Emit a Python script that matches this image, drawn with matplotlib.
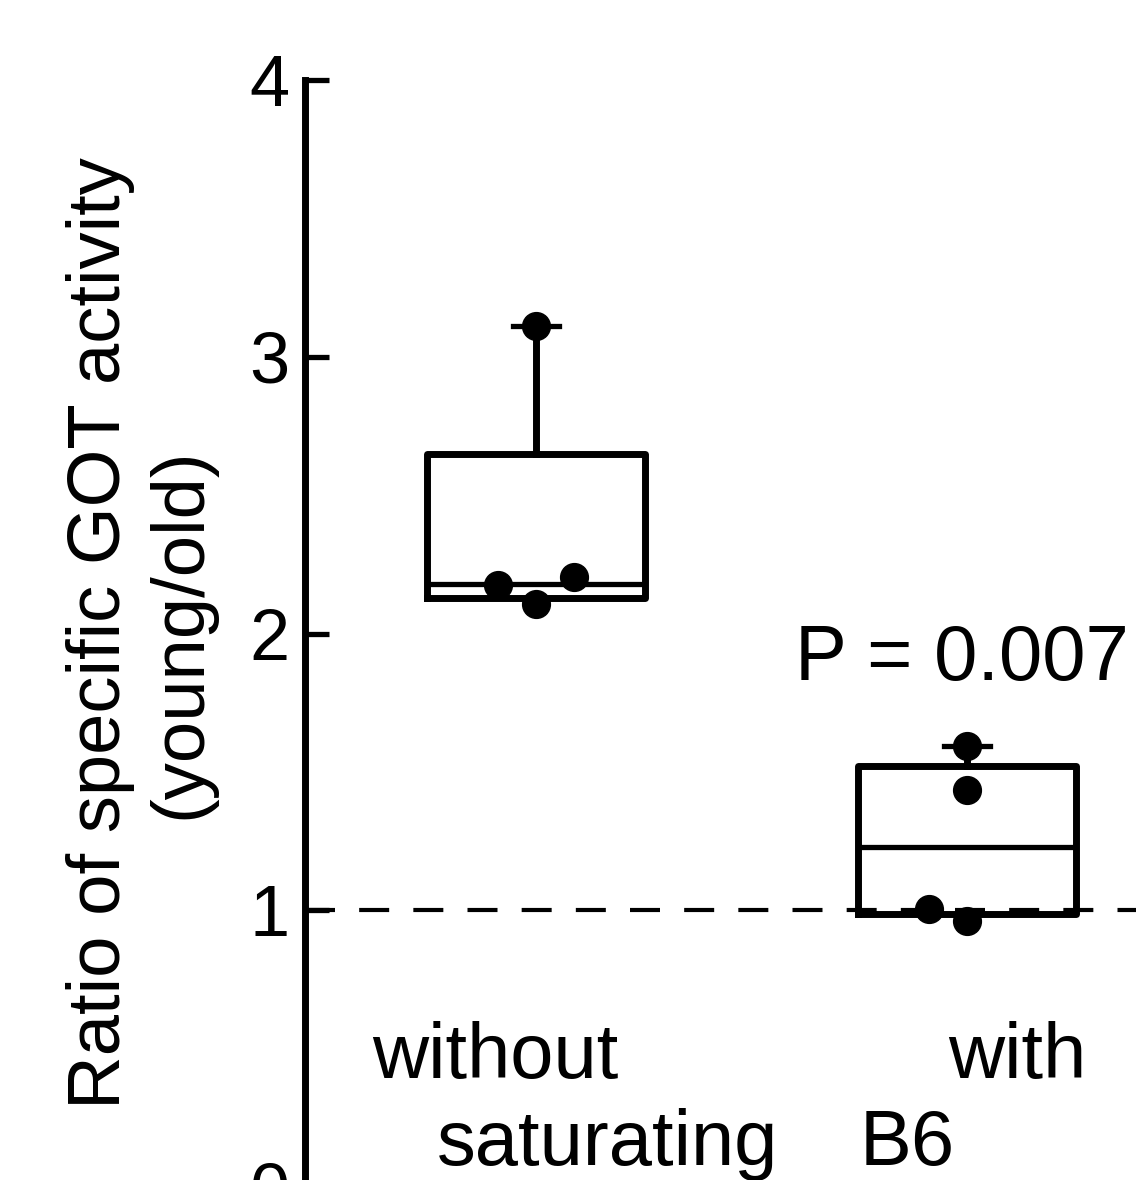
import matplotlib
matplotlib.use('Agg')
import matplotlib.pyplot as plt

plt.rcParams['font.family'] = ['Liberation Sans', 'DejaVu Sans']

# values
groups = ['without', 'with']
positions = [1, 2]
q1 = [2.13, 0.985]
medians = [2.18, 1.23]
q3 = [2.65, 1.52]
whisker_hi = [3.11, 1.595]
points = [[3.11, 2.175, 2.105, 2.205],
          [1.595, 1.435, 1.005, 0.96]]
point_dx = [[0, -0.088, 0, 0.088],
            [0, 0, -0.088, 0]]
reference_ratio = 1.0
p_text = 'P = 0.007'
yticks = [0, 1, 2, 3, 4]

fig = plt.figure(figsize=(11.36, 11.80), dpi=100)
ax = fig.add_axes([305 / 1136, -7 / 1180, 995 / 1136, 1107 / 1180])

stats = []
for i in range(len(groups)):
    stats.append({'med': medians[i], 'q1': q1[i], 'q3': q3[i],
                  'whislo': q1[i], 'whishi': whisker_hi[i],
                  'fliers': [], 'label': groups[i]})

lw = 5.0
ax.bxp(stats, positions=positions, widths=0.508, capwidths=0.105,
       showfliers=False,
       boxprops=dict(color='black', linewidth=lw),
       whiskerprops=dict(color='black', linewidth=lw),
       capprops=dict(color='black', linewidth=3.8),
       medianprops=dict(color='black', linewidth=3.8),
       zorder=3)

for i, vals in enumerate(points):
    xs = [positions[i] + d for d in point_dx[i]]
    ax.plot(xs, vals, 'o', color='black', markersize=20, zorder=4,
            clip_on=False)

ax.axhline(reference_ratio, color='black', linewidth=3,
           linestyle=(0, (7.2, 5.8)), zorder=2)

ax.set_xlim(0.464, 2.7726)
ax.set_ylim(0, 4)
ax.set_yticks(yticks)
ax.set_yticklabels([str(t) for t in yticks], fontsize=52)
ax.tick_params(axis='y', direction='in', length=17, width=3.8, pad=11)
ax.set_xticks([])
for s in ['top', 'right', 'bottom']:
    ax.spines[s].set_visible(False)
ax.spines['left'].set_linewidth(lw)

ax.set_ylabel('Ratio of specific GOT activity\n(young/old)', fontsize=53.5,
              linespacing=1.2)
ax.yaxis.set_label_coords(-0.0905, 0.5)

fs = 56
ax.text(0.905, 0.393, 'without', fontsize=fs, ha='center', va='baseline')
ax.text(2.116, 0.393, 'with', fontsize=fs, ha='center', va='baseline')
ax.text(1.165, 0.078, 'saturating', fontsize=fs, ha='center', va='baseline')
ax.text(1.861, 0.078, 'B6', fontsize=fs, ha='center', va='baseline')
ax.text(1.601, 1.831, p_text, fontsize=fs, ha='left', va='baseline')

fig.savefig('out.png', dpi=100)
